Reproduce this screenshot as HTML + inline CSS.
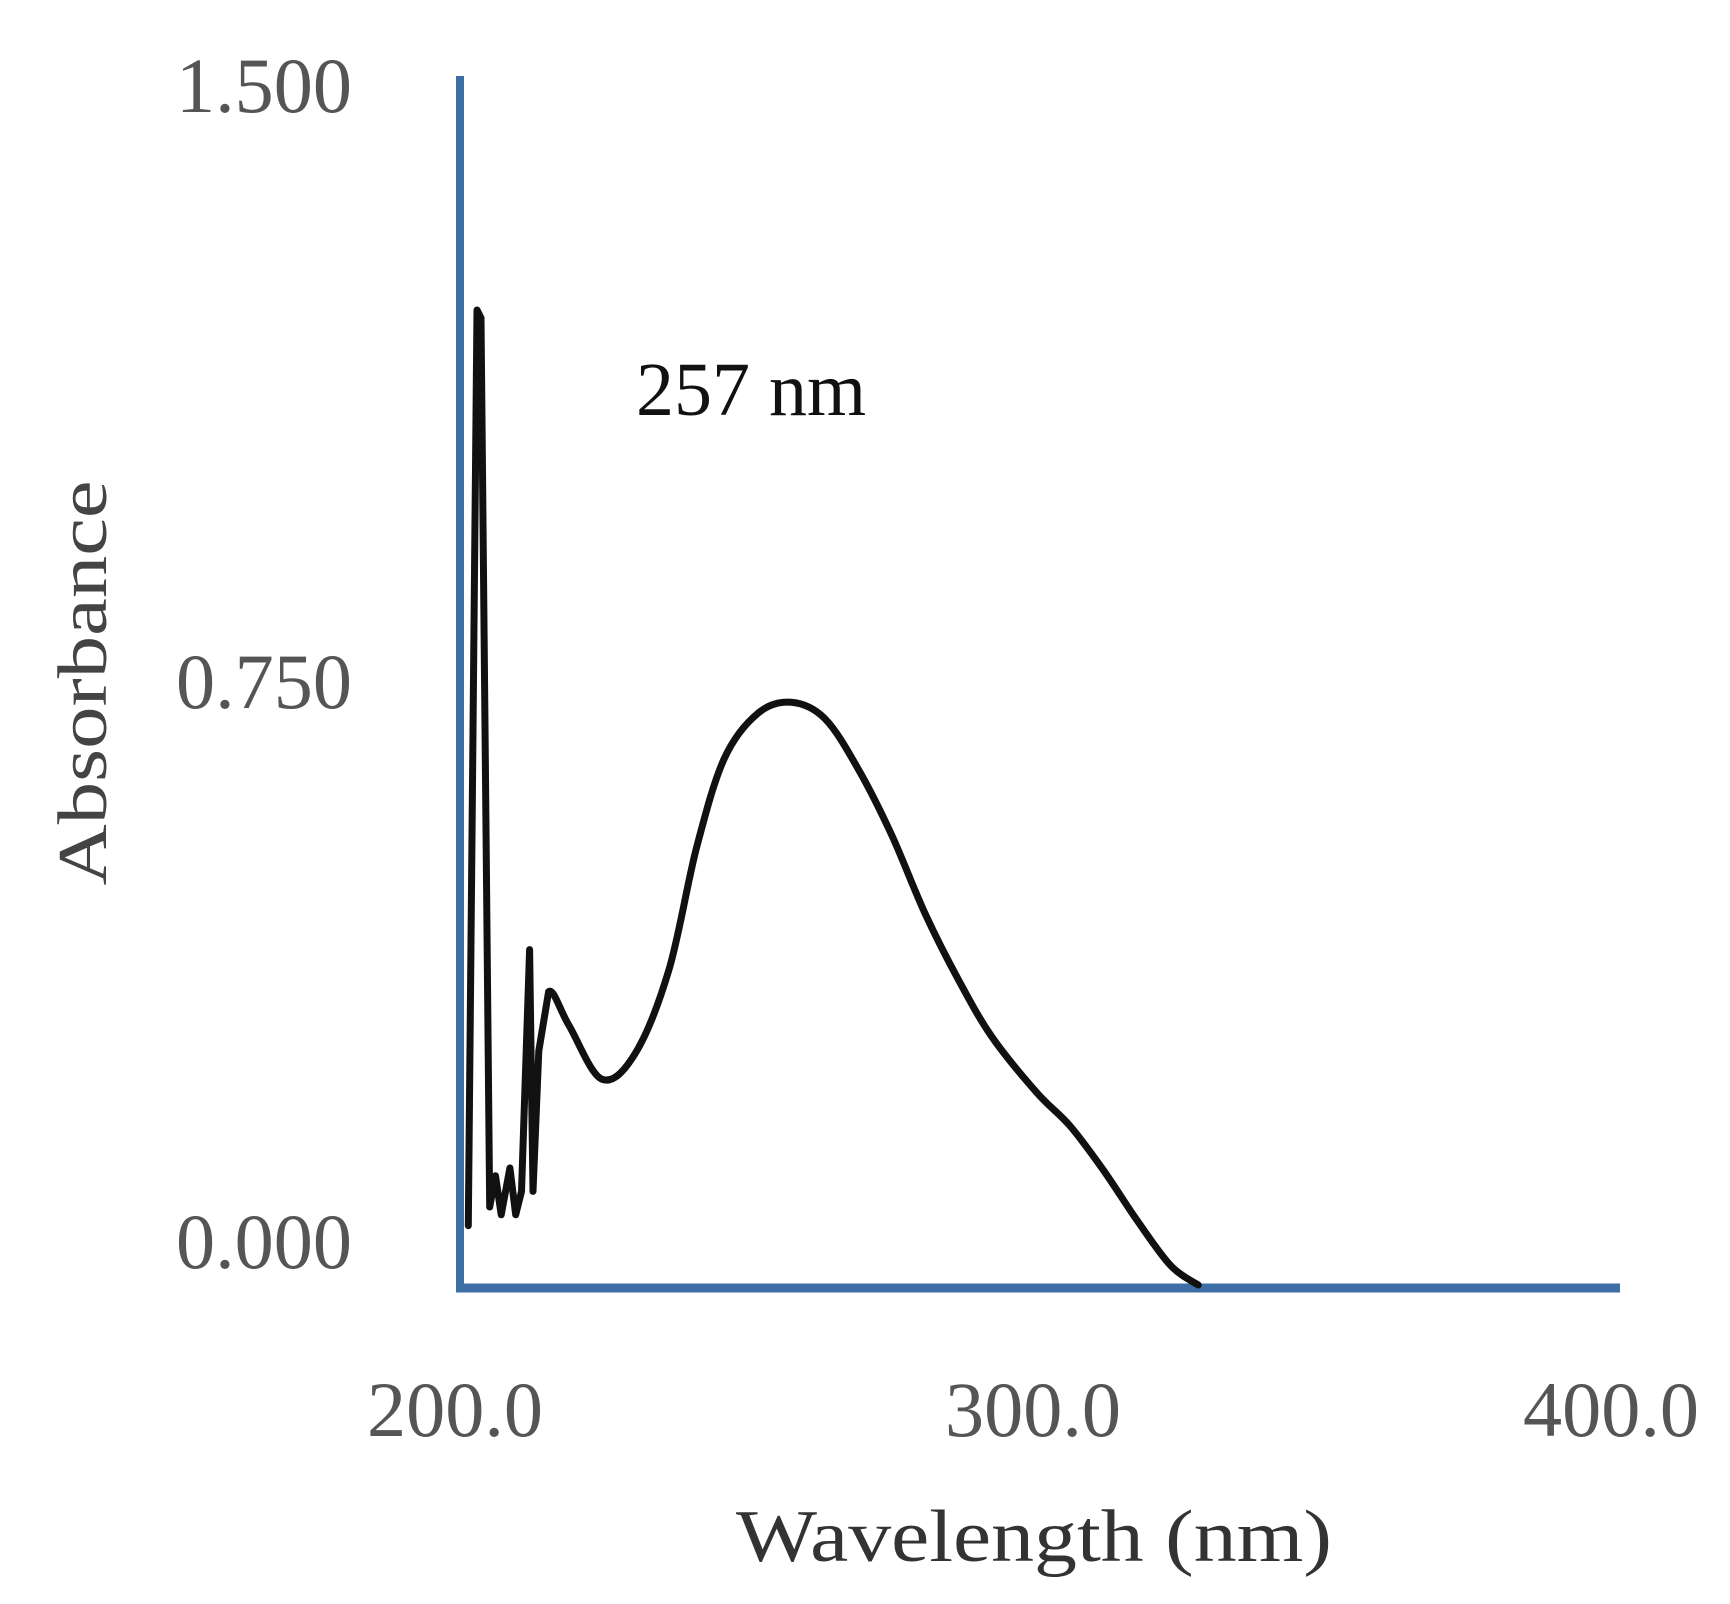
<!DOCTYPE html>
<html><head><meta charset="utf-8"><style>
html,body{margin:0;padding:0;background:#fff;}
svg{display:block;}
.tick{font-family:"Liberation Serif",serif;fill:#555;font-size:78px;}
</style></head><body>
<svg id="chart" width="1730" height="1604" viewBox="0 0 1730 1604" xmlns="http://www.w3.org/2000/svg">
<g id="axes"></g>
<text x="636" y="415" font-family="Liberation Serif, serif" font-size="76" fill="#111">257 nm</text>
<text transform="translate(106,683) rotate(-90)" text-anchor="middle" font-family="Liberation Serif, serif" font-size="70" fill="#444" textLength="405" lengthAdjust="spacingAndGlyphs">Absorbance</text>
<text x="1034" y="1561" text-anchor="middle" font-family="Liberation Serif, serif" font-size="74" fill="#333" textLength="596" lengthAdjust="spacingAndGlyphs">Wavelength (nm)</text>
</svg>
<script>
const wavelengths=[202.3,203.8,204.5,206.0,207.0,208.0,209.5,210.5,211.5,212.9,213.5,214.5,216.2,219.7,225.4,231.2,237.0,241.8,246.6,252.4,258.2,264.0,269.8,275.6,281.4,287.2,292.9,300.6,306.4,312.2,318.0,323.8,328.6,400];
const absorbance=[0.076,1.25,1.24,0.10,0.14,0.09,0.15,0.09,0.12,0.43,0.12,0.30,0.376,0.333,0.264,0.297,0.404,0.561,0.675,0.733,0.747,0.726,0.661,0.576,0.475,0.390,0.318,0.247,0.204,0.147,0.083,0.025,0.0,0.0];
const yTicks=[1.5,0.75,0.0];
const yTickLabels=["1.500","0.750","0.000"];
const xTicks=[200,300,400];
const xTickLabels=["200.0","300.0","400.0"];
const NS="http://www.w3.org/2000/svg";
function xs(w){return 455+(w-200)*5.78;}
function ys(a){return 1285-a*780;}
const svg=document.getElementById('chart');
const axes=document.getElementById('axes');
function mk(tag,attrs,parent){const e=document.createElementNS(NS,tag);for(const k in attrs)e.setAttribute(k,attrs[k]);(parent||svg).appendChild(e);return e;}
const ya=mk('line',{x1:460,y1:76,x2:460,y2:1292,stroke:'#3d6fa6','stroke-width':8},axes);


const xa=mk('line',{x1:456,y1:1288,x2:1620,y2:1288,stroke:'#3d6fa6','stroke-width':9},axes);


const yLabelY=[112,708,1268];
yTicks.forEach((v,i)=>{
  const t=mk('text',{x:352,y:yLabelY[i],'text-anchor':'end',class:'tick',textLength:176,lengthAdjust:'spacingAndGlyphs'});
  t.textContent=yTickLabels[i];
  
  
});
xTicks.forEach((v,i)=>{
  const t=mk('text',{x:xs(v),y:1436,'text-anchor':'middle',class:'tick',textLength:176,lengthAdjust:'spacingAndGlyphs'});
  t.textContent=xTickLabels[i];
  
  
});
const pts=[];
for(let i=0;i<wavelengths.length;i++){
  if(wavelengths[i]>330)break;
  pts.push([xs(wavelengths[i]),ys(absorbance[i])]);
}
let d='M'+pts[0][0].toFixed(1)+','+pts[0][1].toFixed(1);
for(let i=0;i<pts.length-1;i++){
  const p0=pts[Math.max(0,i-1)],p1=pts[i],p2=pts[i+1],p3=pts[Math.min(pts.length-1,i+2)];
  if(i<12){d+='L'+p2[0].toFixed(1)+','+p2[1].toFixed(1);continue;}
  const c1=[p1[0]+(p2[0]-p0[0])/6,p1[1]+(p2[1]-p0[1])/6];
  const c2=[p2[0]-(p3[0]-p1[0])/6,p2[1]-(p3[1]-p1[1])/6];
  d+='C'+c1[0].toFixed(1)+','+c1[1].toFixed(1)+' '+c2[0].toFixed(1)+','+c2[1].toFixed(1)+' '+p2[0].toFixed(1)+','+p2[1].toFixed(1);
}
const p=mk('path',{d:d,fill:'none',stroke:'#111','stroke-width':7,'stroke-linejoin':'round','stroke-linecap':'round'});


</script>
</body></html>
